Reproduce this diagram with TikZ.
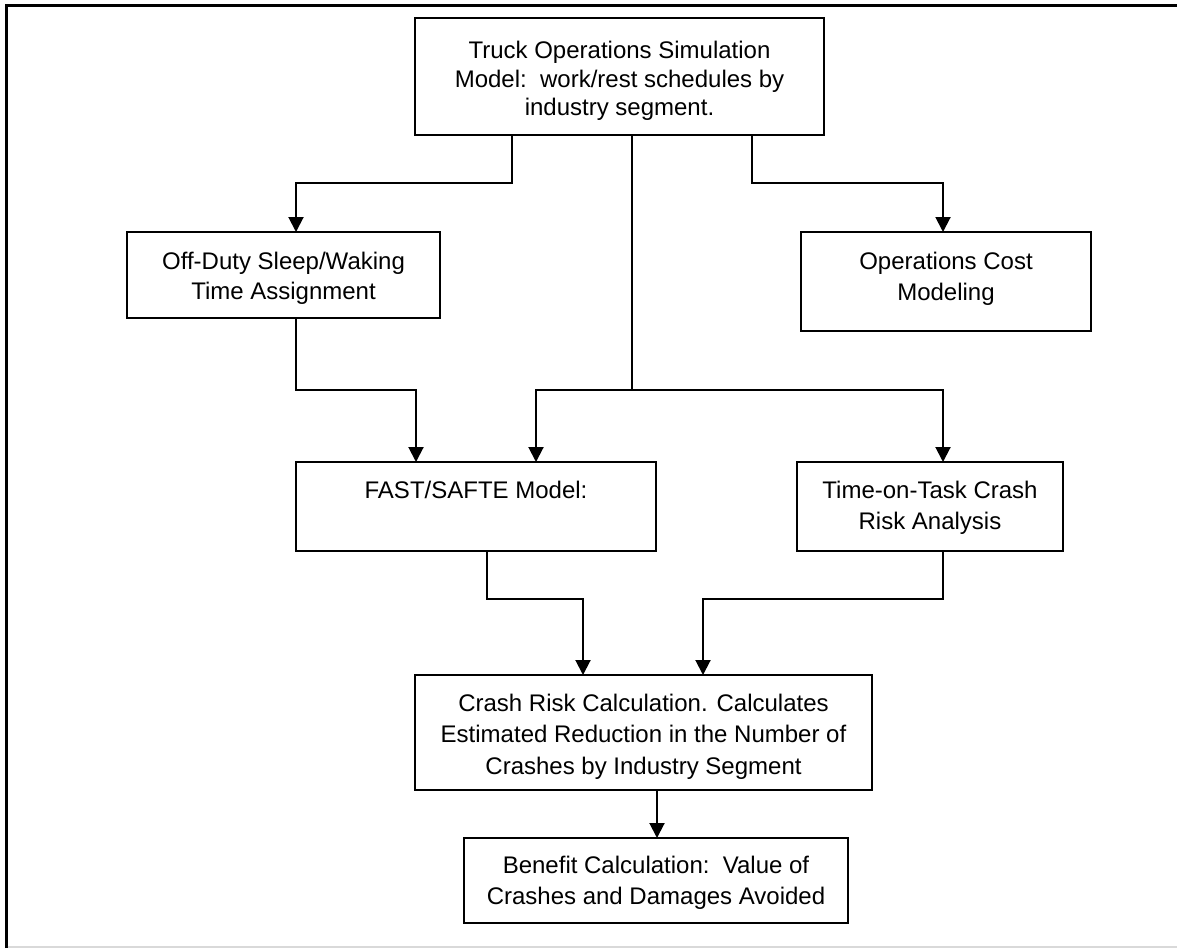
\documentclass[tikz,border=0pt]{standalone}
\usepackage{fontspec}
\setmainfont{Liberation Sans}
\usetikzlibrary{arrows.meta}
\newcommand{\btext}[2]{\raisebox{#1}[\height][\depth]{\begin{tabular}{@{}c@{}}#2\end{tabular}}}
\begin{document}
\begin{tikzpicture}[x=1pt,y=-1pt,
  box/.style={draw, line width=2pt, rectangle, inner sep=0pt, outer sep=0pt,
    font=\fontsize{24}{30}\selectfont},
  conn/.style={line width=2pt},
  arr/.style={conn, -{Triangle[length=15pt,width=15pt]}}]
\useasboundingbox (0,0) rectangle (1177,948);
% outer frame
\draw[line width=3pt] (6,948) -- (6,5) -- (1177,5);
\draw[line width=1.5pt, black!15] (7.5,947) -- (1177,947);
% boxes
\node[box, minimum width=409pt, minimum height=117pt] (top) at (619.5,76.5)
  {\fontsize{24}{28.5}\selectfont\btext{-5pt}{Truck Operations Simulation\\Model:\ \ work/rest schedules by\\industry segment.}};
\node[box, minimum width=313pt, minimum height=86pt] (offduty) at (283.5,275)
  {\btext{-3pt}{Off-Duty Sleep/Waking\\Time Assignment}};
\node[box, minimum width=290pt, minimum height=99pt] (ops) at (946,281.5)
  {\fontsize{24}{31}\selectfont\btext{3pt}{Operations Cost\\Modeling}};
\node[box, minimum width=360pt, minimum height=89pt] (fast) at (476,506.5)
  {\btext{14.5pt}{FAST/SAFTE Model:}};
\node[box, minimum width=266pt, minimum height=89pt] (tot) at (930,506.5)
  {\fontsize{24}{31}\selectfont\btext{-1pt}{Time-on-Task Crash\\Risk Analysis}};
\node[box, minimum width=457pt, minimum height=115pt] (crash) at (643.5,732.5)
  {\fontsize{24}{31.5}\selectfont\btext{-4pt}{Crash Risk Calculation. Calculates\\Estimated Reduction in the Number of\\Crashes by Industry Segment}};
\node[box, minimum width=384pt, minimum height=85pt] (benefit) at (656,880.5)
  {\fontsize{24}{31}\selectfont\btext{-2pt}{Benefit Calculation:\ \ Value of\\Crashes and Damages Avoided}};
% connectors
\draw[arr] ([xshift=-107.5pt]top.south) -- ++(0,48) -| ([xshift=12.5pt]offduty.north);
\draw[arr] ([xshift=132.5pt]top.south) -- ++(0,48) -| ([xshift=-3pt]ops.north);
\draw[conn] ([xshift=12.5pt]top.south) -- ++(0,255) coordinate (j1);
\draw[arr] (j1) -| ([xshift=60pt]fast.north);
\draw[arr] (j1) -| ([xshift=13pt]tot.north);
\draw[arr] ([xshift=12.5pt]offduty.south) -- ++(0,72) -| ([xshift=-60pt]fast.north);
\draw[arr] ([xshift=11pt]fast.south) -- ++(0,48) -| ([xshift=-60.5pt]crash.north);
\draw[arr] ([xshift=13pt]tot.south) -- ++(0,48) -| ([xshift=59.5pt]crash.north);
\draw[arr] ([xshift=13.5pt]crash.south) -- ([xshift=1pt]benefit.north);
\end{tikzpicture}
\end{document}
